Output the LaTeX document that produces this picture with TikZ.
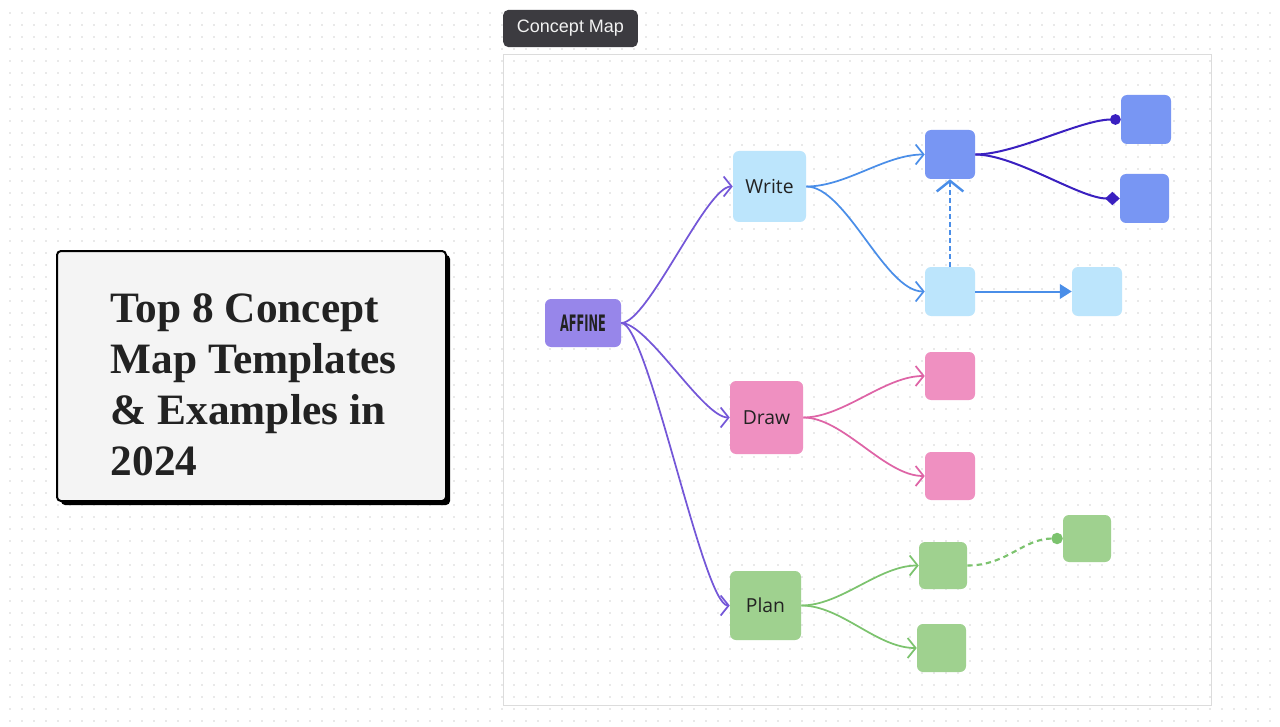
\documentclass[tikz,border=0pt]{standalone}
\usepackage{fontspec}
\setmainfont{Open Sans}
\newfontfamily\headfont{Liberation Serif}
\newfontfamily\logofont{DejaVu Sans}[FakeStretch=0.5]
\newfontfamily\tagfont{Liberation Sans}
\usetikzlibrary{arrows.meta}
\definecolor{ink}{HTML}{222222}
\definecolor{dotc}{HTML}{D4D4D4}
\definecolor{framec}{HTML}{DCDCDC}
\definecolor{tagc}{HTML}{3C3B40}
\definecolor{paper}{HTML}{F4F4F4}
\definecolor{violet}{HTML}{9786EA}
\definecolor{sky}{HTML}{BCE5FC}
\definecolor{azure}{HTML}{7896F3}
\definecolor{rose}{HTML}{EF90C1}
\definecolor{leaf}{HTML}{9FD18F}
\definecolor{violetln}{HTML}{7457D8}
\definecolor{azureln}{HTML}{4A8EE8}
\definecolor{indigo}{HTML}{3A20C0}
\definecolor{roseln}{HTML}{DE64A6}
\definecolor{leafln}{HTML}{7CC36E}

\begin{document}
\begin{tikzpicture}[x=0.75pt,y=-0.75pt,
  every node/.style={font=\fontsize{14.5}{16}\selectfont,text=ink},
  box/.style={rounded corners=4.5pt,inner sep=0pt},
  big/.style={box,minimum width=54.75pt,minimum height=53.25pt},
  small/.style={box,minimum width=37.5pt,minimum height=36.75pt},
  link/.style={line width=1.3pt,-{Straight Barb[length=6pt,width=15pt]}},
  bend/.style={out=0,in=180,distance=#1},
  bend/.default=30pt]
\useasboundingbox (0,0) rectangle (1280,727);
\fill[white] (0,0) rectangle (1280,727);
% dot grid
\foreach \i in {0,...,105}{
  \foreach \j in {0,...,59}{
    \fill[dotc] (10+12*\i,13+12*\j) circle (0.6pt);}}
% title card
\fill[black,rounded corners=3pt] (61,255) rectangle (450,505);
\draw[fill=paper,line width=1.5pt,rounded corners=3pt] (57,251) rectangle (446,501);
\node[anchor=base west,align=left,font=\headfont\bfseries\fontsize{32.5}{38.25}\selectfont] (title) at (106,475)
  {Top 8 Concept\\Map Templates\\\& Examples in\\2024};
% board
\draw[framec,line width=0.75pt] (503,55) rectangle (1211,705);
\node[fill=tagc,rounded corners=4pt,minimum width=101pt,minimum height=28pt,inner sep=0pt,
  text=white!90!gray,font=\tagfont\fontsize{13.5}{15}\selectfont] (tag) at (570.5,28.5) {Concept Map};
% main nodes
\node[box,fill=violet,minimum width=57pt,minimum height=36pt,font=\logofont\bfseries\fontsize{17}{18}\selectfont,text=ink] (affine) at (583,323) {AFFINE};
\node[big,fill=sky] (write) at (769.5,186.5) {Write};
\node[big,fill=rose,minimum height=54.75pt] (draw) at (766.5,417.5) {Draw};
\node[big,fill=leaf,minimum width=53.25pt,minimum height=51.75pt] (plan) at (765.5,605.5) {Plan};
% leaves
\node[small,fill=azure] (b1) at (950,154.5) {};
\node[small,fill=azure] (b2) at (1146,119.5) {};
\node[small,fill=azure,minimum width=36.75pt] (b3) at (1144.5,198.5) {};
\node[small,fill=sky] (s1) at (950,291.5) {};
\node[small,fill=sky] (s2) at (1097,291.5) {};
\node[small,fill=rose,minimum height=36pt] (r1) at (950,376) {};
\node[small,fill=rose,minimum height=36pt] (r2) at (950,476) {};
\node[small,fill=leaf,minimum width=36pt,minimum height=35.25pt] (g1) at (943,565.5) {};
\node[small,fill=leaf,minimum width=36pt,minimum height=35.25pt] (g2) at (1087,538.5) {};
\node[small,fill=leaf,minimum width=36.75pt,minimum height=36pt] (g3) at (941.5,648) {};
% connectors
\foreach \t in {write,draw,plan}{
  \draw[link,violetln] (affine.east) to[bend=20pt] (\t.west);}
\foreach \t in {b1,s1}{
  \draw[link,azureln] (write.east) to[bend] (\t.west);}
\foreach \t in {r1,r2}{
  \draw[link,roseln] (draw.east) to[bend] (\t.west);}
\foreach \t in {g1,g3}{
  \draw[link,leafln] (plan.east) to[bend] (\t.west);}
\draw[azureln,line width=2.2pt,dash pattern=on 3.5pt off 2.5pt,-{Straight Barb[length=8pt,width=20pt,line width=1.8pt]}] (s1.north) -- (b1.south);
\draw[azureln,line width=1.5pt,-{Triangle[length=9pt,width=11pt]}] (s1.east) -- (s2.west);
\draw[indigo,line width=1.5pt,-{Circle[length=8pt]}] (b1.east) to[bend] (b2.west);
\draw[indigo,line width=1.5pt,-{Turned Square[length=11pt,width=10pt]}] (b1.east) to[bend] (b3.west);
\draw[leafln,line width=1.6pt,dash pattern=on 4pt off 3pt,-{Circle[length=8.5pt]}] (g1.east) to[bend] (g2.west);
\end{tikzpicture}
\end{document}
